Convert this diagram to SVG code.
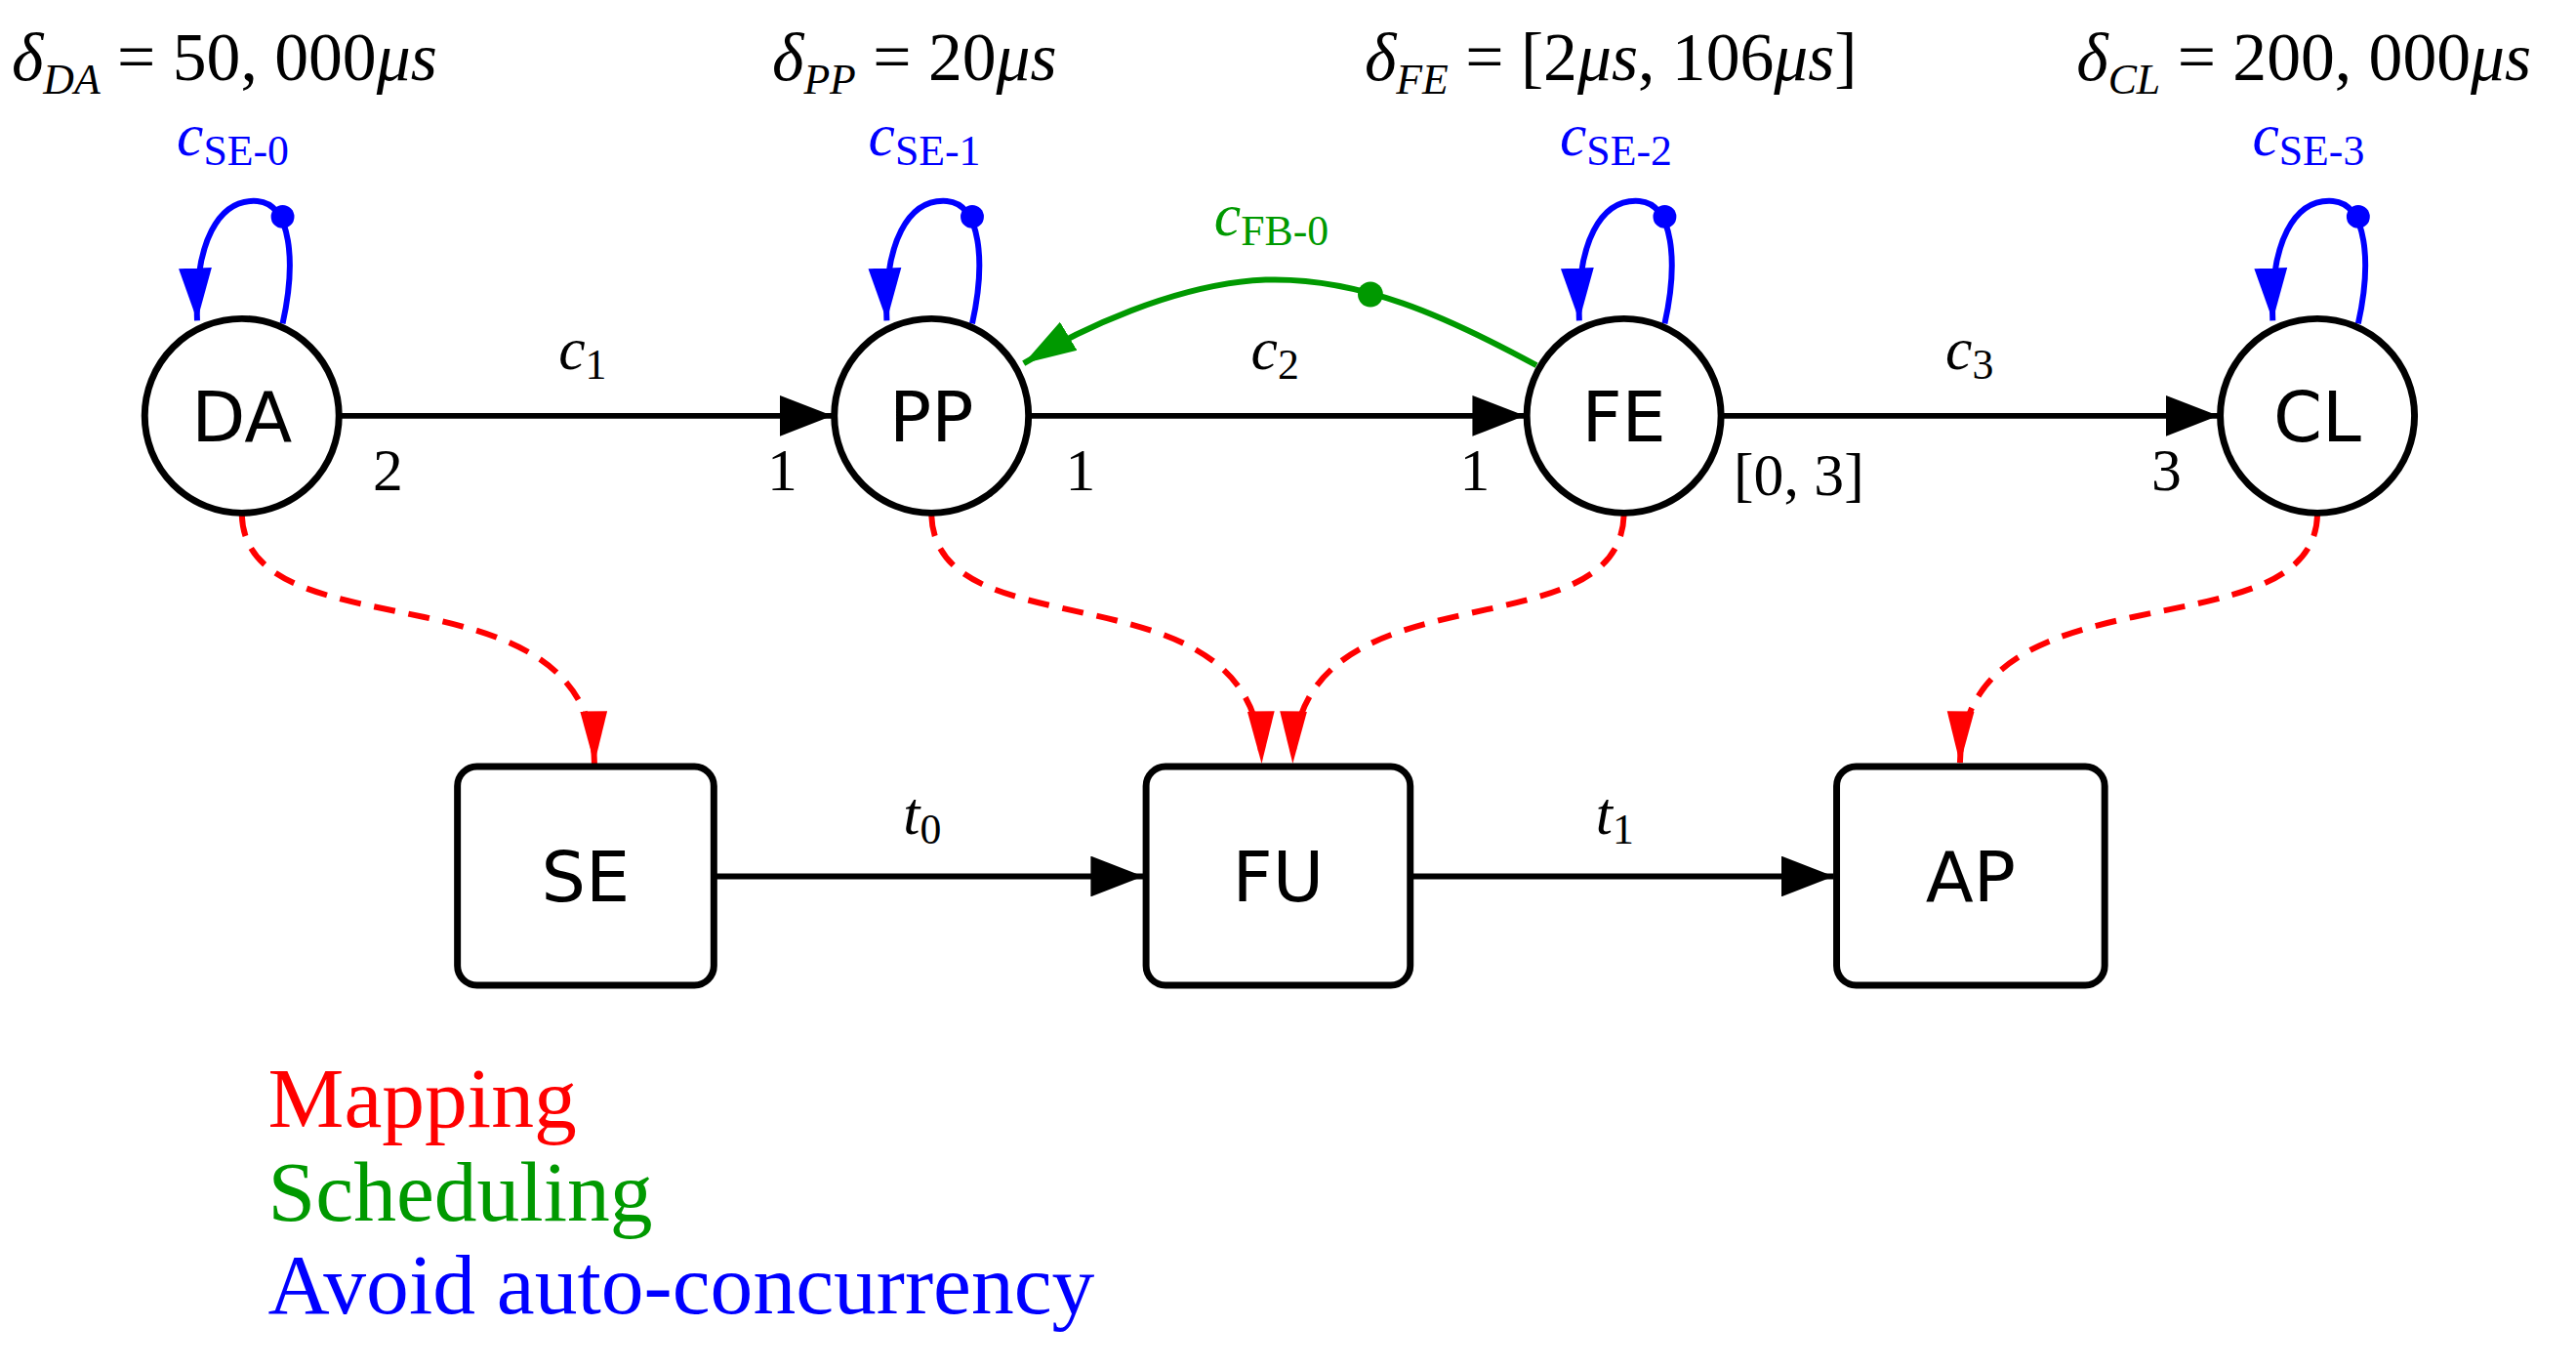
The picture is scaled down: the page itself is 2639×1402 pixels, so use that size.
<svg xmlns="http://www.w3.org/2000/svg" width="2639" height="1402" viewBox="0 0 2639 1402">
<style>
.m{font-family:"Liberation Serif",serif;font-size:62px}
.d{font-size:70px}
.i{font-style:italic}
.s{font-size:44px}
.n{font-family:"DejaVu Sans",sans-serif;font-size:72px;text-anchor:middle}
.node{fill:#fff;stroke:#000;stroke-width:7}
.e{fill:none;stroke:#000;stroke-width:6}
.b{fill:none;stroke:#00f;stroke-width:6}
.g{fill:none;stroke:#090;stroke-width:6}
.r{fill:none;stroke:#f00;stroke-width:6;stroke-dasharray:22 14}
.lg{font-family:"Liberation Serif",serif;font-size:88px}
</style>
<defs>
<marker id="ak" markerUnits="userSpaceOnUse" markerWidth="56" markerHeight="42" refX="54" refY="21" orient="auto"><path d="M0,0 L54,21 L0,42 Z" fill="#000"/></marker>
<marker id="ab" markerUnits="userSpaceOnUse" markerWidth="56" markerHeight="42" refX="54" refY="21" orient="auto"><path d="M0,4 L54,21 L0,38 Z" fill="#00f"/></marker>
<marker id="ag" markerUnits="userSpaceOnUse" markerWidth="56" markerHeight="42" refX="54" refY="21" orient="auto"><path d="M0,4 L54,21 L0,38 Z" fill="#090"/></marker>
<marker id="ar" markerUnits="userSpaceOnUse" markerWidth="56" markerHeight="42" refX="54" refY="21" orient="auto"><path d="M0,7 L54,21 L0,35 Z" fill="#f00"/></marker>
</defs>
<g transform="scale(0.995)">
<g id="connectors">
<line class="e" x1="349" y1="428" x2="857" y2="428" marker-end="url(#ak)"/>
<line class="e" x1="1059" y1="428" x2="1570" y2="428" marker-end="url(#ak)"/>
<line class="e" x1="1772" y1="428" x2="2284" y2="428" marker-end="url(#ak)"/>
<line class="e" x1="736" y1="902" x2="1177" y2="902" marker-end="url(#ak)"/>
<line class="e" x1="1452" y1="902" x2="1888" y2="902" marker-end="url(#ak)"/>
<g id="loops">
<path class="b" d="M291,333 C305,270 300,210 265,207 C225,204 200,250 203,330" marker-end="url(#ab)"/>
<circle cx="291" cy="223" r="12" fill="#00f"/>
<path class="b" d="M1001,333 C1015,270 1010,210 975,207 C935,204 910,250 913,330" marker-end="url(#ab)"/>
<circle cx="1001" cy="223" r="12" fill="#00f"/>
<path class="b" d="M1714,333 C1728,270 1723,210 1688,207 C1648,204 1623,250 1626,330" marker-end="url(#ab)"/>
<circle cx="1714" cy="223" r="12" fill="#00f"/>
<path class="b" d="M2428,333 C2442,270 2437,210 2402,207 C2362,204 2337,250 2340,330" marker-end="url(#ab)"/>
<circle cx="2428" cy="223" r="12" fill="#00f"/>
</g>
<path class="g" d="M1582,376 C1490,326 1400,285 1303,288 C1210,292 1110,340 1054,374" marker-end="url(#ag)"/>
<circle cx="1411" cy="303" r="13" fill="#090"/>
<path class="r" d="M249,530 C254,677 609,575 612,786" marker-end="url(#ar)"/>
<path class="r" d="M959,530 C964,677 1296,575 1299,786" marker-end="url(#ar)"/>
<path class="r" d="M1672,530 C1667,677 1334,575 1331,786" marker-end="url(#ar)"/>
<path class="r" d="M2386,530 C2381,677 2021,575 2018,786" marker-end="url(#ar)"/>
</g>
<g id="DA"><circle class="node" cx="249" cy="428" r="100"/><text class="n" x="249" y="454">DA</text></g>
<g id="PP"><circle class="node" cx="959" cy="428" r="100"/><text class="n" x="959" y="454">PP</text></g>
<g id="FE"><circle class="node" cx="1672" cy="428" r="100"/><text class="n" x="1672" y="454">FE</text></g>
<g id="CL"><circle class="node" cx="2386" cy="428" r="100"/><text class="n" x="2386" y="454">CL</text></g>
<g id="SE"><rect class="node" x="471" y="789" width="264" height="225" rx="20"/><text class="n" x="603" y="928">SE</text></g>
<g id="FU"><rect class="node" x="1180" y="789" width="272" height="225" rx="20"/><text class="n" x="1316" y="928">FU</text></g>
<g id="AP"><rect class="node" x="1891" y="789" width="276" height="225" rx="20"/><text class="n" x="2029" y="928">AP</text></g>
<g id="labels" class="m">
<text class="d" x="12" y="82"><tspan class="i">δ</tspan><tspan class="i s" dy="14">DA</tspan><tspan dy="-14"> = 50, 000</tspan><tspan class="i">μs</tspan></text>
<text class="d" x="795" y="82"><tspan class="i">δ</tspan><tspan class="i s" dy="14">PP</tspan><tspan dy="-14"> = 20</tspan><tspan class="i">μs</tspan></text>
<text class="d" x="1405" y="82"><tspan class="i">δ</tspan><tspan class="i s" dy="14">FE</tspan><tspan dy="-14"> = [2</tspan><tspan class="i">μs</tspan><tspan>, 106</tspan><tspan class="i">μs</tspan><tspan>]</tspan></text>
<text class="d" x="2138" y="82"><tspan class="i">δ</tspan><tspan class="i s" dy="14">CL</tspan><tspan dy="-14"> = 200, 000</tspan><tspan class="i">μs</tspan></text>
<g fill="#00f">
<text x="182" y="160"><tspan class="i">c</tspan><tspan class="s" dy="10">SE-0</tspan></text>
<text x="894" y="160"><tspan class="i">c</tspan><tspan class="s" dy="10">SE-1</tspan></text>
<text x="1606" y="160"><tspan class="i">c</tspan><tspan class="s" dy="10">SE-2</tspan></text>
<text x="2319" y="160"><tspan class="i">c</tspan><tspan class="s" dy="10">SE-3</tspan></text>
</g>
<text x="1250" y="242" fill="#090"><tspan class="i">c</tspan><tspan class="s" dy="10">FB-0</tspan></text>
<text x="575" y="380"><tspan class="i">c</tspan><tspan class="s" dy="10">1</tspan></text>
<text x="1288" y="380"><tspan class="i">c</tspan><tspan class="s" dy="10">2</tspan></text>
<text x="2003" y="380"><tspan class="i">c</tspan><tspan class="s" dy="10">3</tspan></text>
<text x="930" y="858"><tspan class="i">t</tspan><tspan class="s" dy="10">0</tspan></text>
<text x="1643" y="858"><tspan class="i">t</tspan><tspan class="s" dy="10">1</tspan></text>
<text x="384" y="505">2</text>
<text x="790" y="505">1</text>
<text x="1097" y="505">1</text>
<text x="1503" y="505">1</text>
<text x="1785" y="510">[0, 3]</text>
<text x="2215" y="505">3</text>
</g>
<g id="legend" class="lg">
<text x="276" y="1160" fill="#f00">Mapping</text>
<text x="276" y="1256" fill="#090">Scheduling</text>
<text x="276" y="1352" fill="#00f">Avoid auto-concurrency</text>
</g>
</g>
</svg>
